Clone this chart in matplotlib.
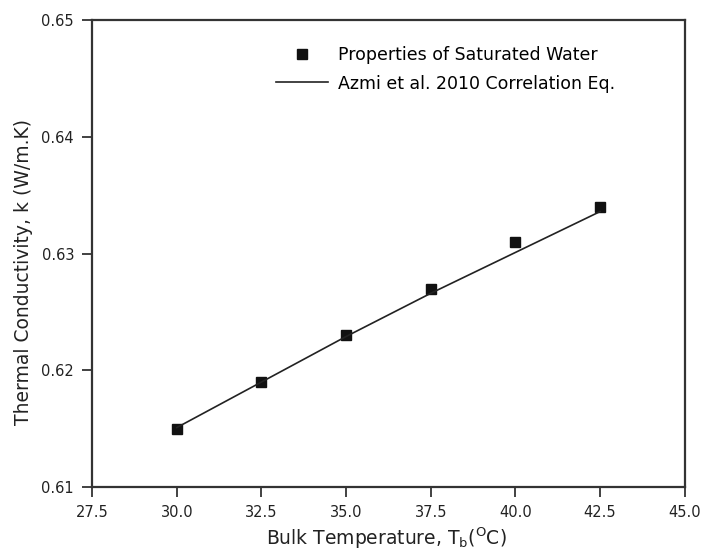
import matplotlib
matplotlib.use("Agg")
import matplotlib.pyplot as plt

# saturated water properties
temp = [30.0, 32.5, 35.0, 37.5, 40.0, 42.5]
k_water = [0.615, 0.619, 0.623, 0.627, 0.631, 0.634]

# correlation curve
k_corr = [0.6151, 0.6190, 0.6229, 0.6266, 0.6301, 0.6336]

xticks = [27.5, 30.0, 32.5, 35.0, 37.5, 40.0, 42.5, 45.0]
yticks = [0.61, 0.62, 0.63, 0.64, 0.65]

plt.rcParams["font.family"] = ["DejaVu Sans"]
plt.rcParams["mathtext.default"] = "regular"

fig = plt.figure(figsize=(7.03, 5.58), dpi=100)
ax = fig.add_axes([0.131, 0.127, 0.843, 0.837])

ax.plot(temp, k_water, "s", color="#111111", markersize=6.5, label="Properties of Saturated Water")
ax.plot(temp, k_corr, "-", color="#222222", linewidth=1.2, label="Azmi et al. 2010 Correlation Eq.")

ax.set_xlim(27.5, 45.0)
ax.set_ylim(0.61, 0.65)
ax.set_xticks(xticks)
ax.set_xticklabels([f"{t:.1f}" for t in xticks])
ax.set_yticks(yticks)
ax.set_yticklabels([f"{t:.2f}" for t in yticks])
ax.tick_params(direction="out", length=7, width=1.3, labelsize=10.5, pad=6,
               colors="#333333", labelcolor="#222222", top=False, right=False)
for s in ax.spines.values():
    s.set_linewidth(1.6)
    s.set_color("#333333")

ax.set_xlabel("Bulk Temperature, T$_b$($^O$C)", fontsize=13.5, color="#222222")
ax.set_ylabel("Thermal Conductivity, k (W/m.K)", fontsize=13.5, color="#222222")
ax.xaxis.set_label_coords(0.497, -0.082)
ax.yaxis.set_label_coords(-0.10, 0.46)

ax.legend(loc="upper left", bbox_to_anchor=(0.31, 0.945), frameon=False,
          fontsize=12.5, handlelength=3.0, handletextpad=0.6, labelspacing=0.62,
          borderaxespad=0, borderpad=0)

fig.savefig("out.png", dpi=100)
